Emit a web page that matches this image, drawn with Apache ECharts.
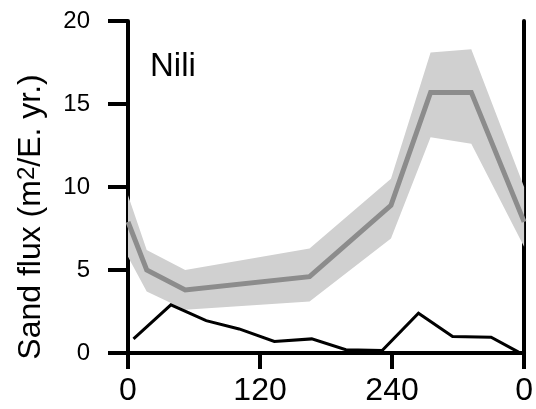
<!DOCTYPE html>
<html>
<head>
<meta charset="utf-8">
<script src="https://cdn.jsdelivr.net/npm/echarts@6/dist/echarts.min.js"></script>
<style>
  html, body { margin: 0; padding: 0; background: #fff; }
  #chart { width: 536px; height: 409px; }
</style>
</head>
<body>
<div id="chart"></div>
<script>
// Mean sand flux by direction with its uncertainty envelope
var meanAngle = [0, 17, 52, 165, 239, 275, 312, 360];
var meanFlux  = [7.9, 5.0, 3.8, 4.6, 8.9, 15.7, 15.7, 7.9];
var upperFlux = [9.5, 6.2, 5.0, 6.3, 10.5, 18.1, 18.3, 10.0];
var lowerFlux = [5.8, 3.7, 2.6, 3.1, 6.9, 13.0, 12.6, 6.4];

// Second flux profile (black line)
var profileAngle = [5, 39, 71, 101, 133, 167, 198, 231, 264, 295, 330, 355];
var profileFlux  = [0.85, 2.9, 1.95, 1.45, 0.7, 0.85, 0.2, 0.15, 2.4, 1.0, 0.95, 0.05];

var xTicks = [0, 120, 240, 360];
var yTicks = [0, 5, 10, 15, 20];
var siteName = 'Nili';

var FONT = 'Liberation Sans, Arial, sans-serif';

var chart = echarts.init(document.getElementById('chart'), null, { renderer: 'canvas' });

var meanData = meanAngle.map(function (a, i) { return [a, meanFlux[i]]; });
var profileData = profileAngle.map(function (a, i) { return [a, profileFlux[i]]; });
var bandData = meanAngle.map(function (a, i) { return [a, lowerFlux[i], upperFlux[i]]; });

var option = {
  animation: false,
  grid: { left: 128, right: 11, top: 21, bottom: 56, containLabel: false },
  xAxis: {
    type: 'value',
    min: xTicks[0],
    max: xTicks[xTicks.length - 1],
    interval: 120,
    axisLine: { show: true, onZero: false, lineStyle: { color: '#000', width: 4 } },
    axisTick: { show: true, inside: false, length: 16, lineStyle: { color: '#000', width: 4 } },
    axisLabel: {
      show: true, margin: 22, color: '#000', fontSize: 32, fontFamily: FONT,
      formatter: function (v) { return v === 360 ? '0' : String(v); }
    },
    splitLine: { show: false }
  },
  yAxis: [{
    type: 'value',
    min: yTicks[0],
    max: yTicks[yTicks.length - 1],
    interval: 5,
    axisLine: { show: true, lineStyle: { color: '#000', width: 4 } },
    axisTick: { show: true, inside: false, length: 20, lineStyle: { color: '#000', width: 4 } },
    axisLabel: { show: true, margin: 38, color: '#000', fontSize: 24, fontFamily: FONT },
    splitLine: { show: false }
  }, {
    type: 'value',
    position: 'right',
    min: 0,
    max: 20,
    interval: 5,
    axisLine: { show: true, lineStyle: { color: '#000', width: 4 } },
    axisTick: { show: false },
    axisLabel: { show: false },
    splitLine: { show: false }
  }],
  series: [
    {
      // shaded envelope between lower and upper bounds
      type: 'custom',
      silent: true,
      z: 1,
      data: [0],
      renderItem: function (params, api) {
        var pts = [];
        bandData.forEach(function (d) { pts.push(api.coord([d[0], d[2]])); });
        for (var i = bandData.length - 1; i >= 0; i--) {
          pts.push(api.coord([bandData[i][0], bandData[i][1]]));
        }
        return {
          type: 'polygon',
          shape: { points: pts },
          style: { fill: '#d0d0d0', stroke: null }
        };
      }
    },
    {
      type: 'line',
      z: 2,
      data: meanData,
      symbol: 'none',
      lineStyle: { color: '#8c8c8c', width: 5, join: 'miter' }
    },
    {
      type: 'line',
      z: 3,
      data: profileData,
      symbol: 'none',
      lineStyle: { color: '#000', width: 3, join: 'miter' }
    }
  ],
  graphic: [
    {
      type: 'text',
      left: 150,
      top: 50,
      style: { text: siteName, fontSize: 33, fontFamily: FONT, fill: '#000' }
    },
    {
      type: 'text',
      x: 31,
      y: 217,
      rotation: Math.PI / 2,
      style: {
        text: 'Sand flux (m{sup|2}/E. yr.)',
        fontSize: 32,
        fontFamily: FONT,
        fill: '#000',
        align: 'center',
        verticalAlign: 'middle',
        rich: {
          sup: { fontSize: 24, fontFamily: FONT, fill: '#000', verticalAlign: 'top', padding: [0, 0, 4, 0] }
        }
      }
    }
  ]
};

chart.setOption(option);
</script>
</body>
</html>
